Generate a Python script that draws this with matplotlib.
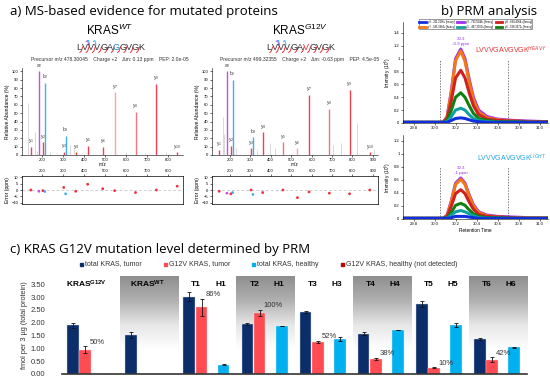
import numpy as np
import matplotlib
matplotlib.use("Agg")
import matplotlib.pyplot as plt
from matplotlib.lines import Line2D
from matplotlib.colors import LinearSegmentedColormap

plt.rcParams["font.family"] = ["Liberation Sans", "DejaVu Sans"]
plt.rcParams["mathtext.fontset"] = "custom"
plt.rcParams["mathtext.rm"] = "Liberation Sans"
plt.rcParams["mathtext.it"] = "Liberation Sans:italic"
plt.rcParams["mathtext.bf"] = "Liberation Sans:bold"

W, H = 550, 381

# ---- a) spectra: (m/z, relative abundance, label, colour key)
wt_ions_mz = [185.2, 213.2, 312.2, 147.1, 204.1, 303.2, 360.2, 417.2, 488.3, 545.3, 644.4, 743.5, 842.5]
wt_ions_int = [100, 86, 23, 10, 15, 4, 3, 11, 10, 75, 52, 85, 3]
wt_ions_lab = ["a2", "b2", "b3", "y1", "y2", "y3", "y4", "y5", "y6", "y7", "y8", "y9", "y10"]
wt_ions_col = ["a", "b", "b", "y", "y", "y", "y", "y", "y", "yl", "ym", "y", "y"]
wt_noise_mz = [133, 167, 178, 240, 335, 352, 600, 690, 790]
wt_noise_int = [62, 27, 5, 3, 12, 7, 3, 2, 3]
wt_err = [-1.0, -1.2, -3.0, 0.0, -0.5, 2.0, -1.0, 4.5, 1.0, -0.5, -2.0, 0.0, 3.0]

mut_ions_mz = [185.2, 213.2, 312.2, 147.1, 204.1, 303.2, 360.2, 459.3, 530.4, 587.4, 686.5, 785.6, 884.6]
mut_ions_int = [100, 90, 21, 6, 11, 8, 27, 15, 8, 72, 55, 78, 3]
mut_ions_lab = ["a2", "b2", "b3", "y1", "y2", "y3", "y4", "y5", "y6", "y7", "y8", "y9", "y10"]
mut_ions_col = ["a", "b", "b", "y", "y", "y", "y", "ym", "yl", "y", "ym", "y", "y"]
mut_noise_mz = [165, 172, 228, 330, 395, 420, 705, 745, 820, 905]
mut_noise_int = [45, 25, 8, 6, 14, 8, 12, 14, 38, 7]
mut_err = [-2.5, -2.0, -3.5, -1.0, -3.0, 0.0, -2.0, 0.0, -6.0, -1.5, -2.5, -3.0, 0.0]

ion_colors = {"a": "#c84fe0", "b": "#3fb0ee", "y": "#f0404f", "ym": "#f47383", "yl": "#f6a5b0"}

# ---- b) PRM chromatograms
rt = [29.70, 30.08, 30.12, 30.16, 30.20, 30.25, 30.29, 30.33, 30.37, 30.42, 30.50, 30.60, 30.75, 30.90, 31.08]
heavy_purple = [0.01, 0.01, 0.10, 0.50, 1.00, 1.15, 1.00, 0.68, 0.40, 0.20, 0.10, 0.06, 0.04, 0.03, 0.02]
heavy_orange = [0.01, 0.01, 0.09, 0.48, 0.97, 1.12, 0.96, 0.64, 0.36, 0.17, 0.08, 0.05, 0.03, 0.02, 0.02]
heavy_red = [0.01, 0.01, 0.07, 0.35, 0.70, 0.82, 0.70, 0.47, 0.27, 0.13, 0.06, 0.04, 0.03, 0.02, 0.02]
heavy_green = [0.01, 0.01, 0.04, 0.20, 0.40, 0.47, 0.40, 0.27, 0.15, 0.07, 0.04, 0.02, 0.02, 0.01, 0.01]
heavy_teal = [0.01, 0.01, 0.02, 0.10, 0.20, 0.23, 0.20, 0.13, 0.07, 0.04, 0.02, 0.01, 0.01, 0.01, 0.01]
heavy_blue = [0.01, 0.01, 0.01, 0.04, 0.07, 0.08, 0.07, 0.05, 0.03, 0.02, 0.01, 0.01, 0.01, 0.01, 0.01]
light_purple = [0.01, 0.01, 0.06, 0.28, 0.55, 0.63, 0.55, 0.37, 0.22, 0.11, 0.06, 0.04, 0.03, 0.02, 0.02]
light_orange = [0.01, 0.01, 0.05, 0.27, 0.53, 0.61, 0.53, 0.35, 0.20, 0.10, 0.05, 0.03, 0.02, 0.02, 0.02]
light_red = [0.01, 0.01, 0.04, 0.20, 0.39, 0.45, 0.39, 0.26, 0.15, 0.07, 0.04, 0.03, 0.02, 0.01, 0.01]
light_green = [0.01, 0.01, 0.02, 0.10, 0.21, 0.24, 0.21, 0.14, 0.08, 0.04, 0.02, 0.02, 0.01, 0.01, 0.01]
light_teal = [0.01, 0.01, 0.01, 0.06, 0.11, 0.13, 0.11, 0.08, 0.05, 0.02, 0.01, 0.01, 0.01, 0.01, 0.01]
light_blue = [0.01, 0.01, 0.01, 0.02, 0.04, 0.04, 0.04, 0.03, 0.02, 0.01, 0.01, 0.01, 0.01, 0.01, 0.01]
trace_names = ["y3 - 311.2196+ [heavy]", "y7 - 595.3964+ [heavy]", "y9 - 793.5648+ [heavy]",
               "y5 - 467.3000+ [heavy]", "y8 - 694.4964+ [heavy]", "y6 - 538.3371+ [heavy]"]
trace_colors = ["#1030e0", "#f07818", "#a030f0", "#10a0a0", "#d02020", "#108010"]

# ---- c) PRM quantification
group_names = ["KRAS G12V", "KRAS WT", "T1", "T2", "T3", "T4", "T5", "T6"]
healthy_names = ["", "", "H1", "H1", "H3", "H4", "H5", "H6"]
tumor_total = [1.90, 1.52, 3.02, 1.95, 2.42, 1.57, 2.74, 1.37]
tumor_total_err = [0.10, 0.10, 0.18, 0.05, 0.04, 0.05, 0.12, 0.05]
tumor_g12v = [0.95, np.nan, 2.60, 2.38, 1.25, 0.58, 0.25, 0.56]
tumor_g12v_err = [0.13, 0.0, 0.33, 0.13, 0.04, 0.05, 0.02, 0.09]
healthy_total = [np.nan, np.nan, 0.36, 1.87, 1.38, 1.72, 1.91, 1.04]
healthy_total_err = [0.0, 0.0, 0.02, 0.01, 0.08, 0.01, 0.08, 0.02]
pct_labels = ["50%", "", "86%", "100%", "52%", "38%", "10%", "42%"]


def fbox(x0, y0, x1, y1):
    # pixel box -> figure fraction
    return [x0 / W, 1 - y1 / H, (x1 - x0) / W, (y1 - y0) / H]


def fp(x, y):
    return x / W, 1 - y / H


fig = plt.figure(figsize=(5.5, 3.81), dpi=100)

# titles
fig.text(*fp(10, 11), "a) MS-based evidence for mutated proteins", family="Open Sans", fontsize=9.5, va="center")
fig.text(*fp(441, 12), "b) PRM analysis", family="Open Sans", fontsize=9.5, va="center")
fig.text(*fp(10, 250), "c) KRAS G12V mutation level determined by PRM", family="Open Sans", fontsize=9.5, va="center")


def draw_header(cx, name, sup, mut_letter, mut_color, precursor):
    fig.text(*fp(cx, 30), name + "$^{" + sup + "}$", fontsize=8.5, ha="center", va="center")
    seq = "LVVVGA" + mut_letter + "GVGK"
    step = 6.3
    x0 = cx - step * 5
    for i, ch in enumerate(seq):
        col = mut_color if i == 6 else "#333333"
        fig.text(*fp(x0 + i * step, 47), ch, fontsize=6.5, ha="center", va="center", color=col)
    # y-ion marks below bonds
    for i in range(10):
        bx = x0 + (i + 0.5) * step
        xs = [bx + 1.0, bx - 0.3, bx - 1.8]
        ys = [47, 51, 52.5]
        fig.add_artist(Line2D([fp(xx, 0)[0] for xx in xs], [fp(0, y)[1] for y in ys], color="#e8303a", lw=0.7))
    # a/b ion marks above
    for i, c in [(1, "#c84fe0"), (1.15, "#3fb0ee"), (2.15, "#3fb0ee")]:
        bx = x0 + (i + 0.5) * step
        xs = [bx - 1.8, bx - 0.3, bx + 0.8]
        ys = [41.5, 40.5, 45]
        fig.add_artist(Line2D([fp(xx, 0)[0] for xx in xs], [fp(0, y)[1] for y in ys], color=c, lw=0.7))
    fig.text(*fp(cx, 60), precursor, fontsize=3.6, ha="center", va="center", color="#333333")


def draw_spectrum(box, ebox, mz, inten, labs, cols, noise_mz, noise_int, err, xlim, xticks):
    ax = fig.add_axes(fbox(*box))
    ax.vlines(noise_mz, 0, noise_int, color="#d8d8d8", lw=0.7)
    for m, v, lab, c in zip(mz, inten, labs, cols):
        ax.vlines(m, 0, v, color=ion_colors[c], lw=1.0)
        ax.text(m, v + 2, lab[0] + "$_{" + lab[1:] + "}$", fontsize=3.5, ha="center", va="bottom", color="#333333")
    ax.set_xlim(*xlim)
    ax.set_ylim(0, 104)
    ax.set_yticks(range(0, 101, 10))
    ax.set_xticks(xticks)
    ax.tick_params(labelsize=3, length=1.5, width=0.4, pad=1)
    for s in ["top", "right"]:
        ax.spines[s].set_visible(False)
    for s in ["left", "bottom"]:
        ax.spines[s].set_linewidth(0.4)
    ax.set_ylabel("Relative Abundance (%)", fontsize=3.6, labelpad=1)
    ax.set_xlabel("m/z", fontsize=3.4, labelpad=0)

    ea = fig.add_axes(fbox(*ebox))
    ea.axhline(0, color="#bbbbbb", lw=0.5, ls=(0, (4, 3)))
    ea.scatter(mz, err, s=4, c=[ion_colors[c] if c in ("a", "b") else "#f0303a" for c in cols], zorder=3, lw=0)
    ea.set_xlim(*xlim)
    ea.set_ylim(-11, 11)
    ea.set_yticks([-10, -5, 0, 5, 10])
    ea.set_xticks(xticks)
    ea.xaxis.tick_top()
    ea.tick_params(labelsize=3, length=1.5, width=0.4, pad=1)
    for s in ea.spines.values():
        s.set_linewidth(0.5)
    ea.set_ylabel("Error (ppm)", fontsize=3.6, labelpad=1)


draw_header(110, "KRAS", "WT", "G", "#1a7fe0",
            "Precursor m/z 478.30045    Charge +2    \u0394m: 0.13 ppm    PEP: 2.0e-05")
draw_header(300, "KRAS", "G12V", "V", "#e8303a",
            "Precursor m/z 499.32355    Charge +2    \u0394m: -0.63 ppm    PEP: 4.5e-05")
draw_spectrum((22, 68, 183, 155), (22, 176, 183, 204), wt_ions_mz, wt_ions_int, wt_ions_lab, wt_ions_col,
              wt_noise_mz, wt_noise_int, wt_err, (105, 870), range(200, 801, 100))
draw_spectrum((212, 68, 378, 155), (212, 176, 378, 204), mut_ions_mz, mut_ions_int, mut_ions_lab, mut_ions_col,
              mut_noise_mz, mut_noise_int, mut_err, (112, 925), range(200, 901, 100))

# ---- b) chromatograms
heavy = [heavy_blue, heavy_orange, heavy_purple, heavy_teal, heavy_red, heavy_green]
light = [light_blue, light_orange, light_purple, light_teal, light_red, light_green]
draw_order = [2, 1, 4, 5, 3, 0]


def draw_chrom(box, traces, ylim, yticks, label, label_color, apex, note, show_legend, xlabel):
    ax = fig.add_axes(fbox(*box))
    for k in draw_order:
        ax.plot(rt, traces[k], color=trace_colors[k], lw=2.2, label=trace_names[k], solid_joinstyle="round")
    ax.vlines([30.05, 30.70], 0, ylim[1] * 0.62, color="#444444", lw=0.5, ls=(0, (2, 2)))
    ax.set_xlim(29.70, 31.08)
    ax.set_ylim(*ylim)
    ax.set_yticks(yticks)
    ax.set_yticklabels([("%g" % v) for v in yticks])
    ax.set_xticks([29.8, 30.0, 30.2, 30.4, 30.6, 30.8, 31.0])
    ax.tick_params(labelsize=3, length=1.5, width=0.4, pad=1)
    for s in ["top", "right"]:
        ax.spines[s].set_visible(False)
    for s in ["left", "bottom"]:
        ax.spines[s].set_linewidth(0.4)
    ax.set_ylabel("Intensity (10$^6$)", fontsize=3.4, labelpad=1)
    if xlabel:
        ax.set_xlabel("Retention Time", fontsize=3.4, labelpad=1)
    ax.text(30.25, apex + 0.05, note, fontsize=3.2, color="#a030f0", ha="center", va="bottom")
    ax.text(31.07, ylim[1] * 0.72, label, fontsize=5, color=label_color, ha="right", va="center")
    if show_legend:
        handles = [Line2D([0], [0], color=trace_colors[k], lw=2) for k in range(6)]
        ax.legend(handles, trace_names, ncol=3, fontsize=1.9, loc="upper center", bbox_to_anchor=(0.5, 1.04),
                  frameon=True, edgecolor="#222222", fancybox=False, handlelength=2.5, columnspacing=1.0,
                  borderpad=0.3, labelspacing=0.2).get_frame().set_linewidth(0.4)
    return ax


draw_chrom((403, 22, 548, 123), heavy, (0, 1.57), [0, 0.2, 0.4, 0.6, 0.8, 1, 1.2, 1.4],
           "LVVVGAVGVGK$^{HEAVY}$", "#e83030", 1.15, "30.3\n-0.9 ppm", True, False)
draw_chrom((403, 135, 548, 219), light, (0, 1.29), [0, 0.2, 0.4, 0.6, 0.8, 1, 1.2],
           "LVVVGAVGVGK$^{LIGHT}$", "#20a4e4", 0.63, "30.3\n-1 ppm", False, True)

# ---- c) bar chart
navy, red, cyan, dred = "#0b2e6b", "#ff4b52", "#00b0ef", "#c00000"

# legend row
leg = [(85, navy, "total KRAS, tumor"), (169, red, "G12V KRAS, tumor"),
       (257, cyan, "total KRAS, healthy"), (346, dred, "G12V KRAS, healthy (not detected)")]
for lx, c, t in leg:
    fig.patches.append(plt.Rectangle(fp(lx - 5, 265.5), 3 / W, 3 / H, color=c, transform=fig.transFigure))
    fig.text(*fp(lx, 264), t, fontsize=5, va="center", color="#333333")

ax = fig.add_axes(fbox(62, 276, 527, 374))
n = len(group_names)
x = np.arange(n)
grey_cmap = LinearSegmentedColormap.from_list("g", ["#ffffff", "#ffffff", "#e6e6e6", "#b0b0b0", "#8e8e8e"])
grad = np.linspace(0, 1, 100).reshape(-1, 1)
for i in range(n):
    if i % 2 == 1:
        ax.imshow(grad[::-1], extent=(i, i + 1, 0, 3.82), aspect="auto", cmap=grey_cmap, zorder=0)

bw = 0.2
ekw = dict(ecolor="#111111", elinewidth=0.6, capsize=1.3, capthick=0.6)
ax.bar(x + 0.19, tumor_total, bw, yerr=tumor_total_err, color=navy, edgecolor="#c9d3e6", lw=0.3, error_kw=ekw, zorder=2)
ax.bar(x + 0.40, tumor_g12v, bw, yerr=tumor_g12v_err, color=red, edgecolor="#ffd0d0", lw=0.3, error_kw=ekw, zorder=2)
ax.bar(x + 0.78, healthy_total, bw, yerr=healthy_total_err, color=cyan, edgecolor="#d0f0ff", lw=0.3, error_kw=ekw, zorder=2)

for i in range(n):
    if pct_labels[i]:
        ax.text(x[i] + 0.47, tumor_g12v[i] + tumor_g12v_err[i] + 0.02, pct_labels[i], fontsize=5.5,
                color="#333333", ha="left", va="bottom", zorder=3)
    if i == 0:
        ax.text(x[i] + 0.42, 3.48, r"$\mathbf{KRAS^{G12V}}$", fontsize=6, ha="center", va="center")
    elif i == 1:
        ax.text(x[i] + 0.47, 3.48, r"$\mathbf{KRAS^{WT}}$", fontsize=6, ha="center", va="center")
    else:
        ax.text(x[i] + 0.31, 3.48, group_names[i], fontsize=6, fontweight="bold", ha="center", va="center")
        ax.text(x[i] + 0.73, 3.48, healthy_names[i], fontsize=6, fontweight="bold", ha="center", va="center")

ax.set_xlim(0, n)
ax.set_ylim(0, 3.82)
ax.set_yticks(np.arange(0, 3.51, 0.5))
ax.set_yticklabels(["%.2f" % v for v in np.arange(0, 3.51, 0.5)])
ax.set_xticks([])
ax.tick_params(axis="y", labelsize=5.5, length=0, pad=12, colors="#333333")
for s in ["top", "right", "left"]:
    ax.spines[s].set_visible(False)
ax.spines["bottom"].set_linewidth(1.2)
ax.spines["bottom"].set_color("#333333")
ax.set_ylabel("fmol per 3 \u00b5g (total protein)", fontsize=5.3, labelpad=2, color="#333333")

fig.savefig("out.png", dpi=100)
